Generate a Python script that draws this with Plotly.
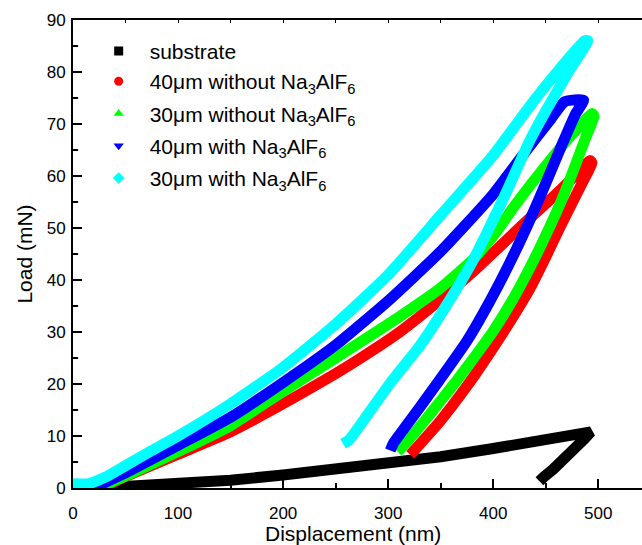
import plotly.graph_objects as go

# ---------------- data ----------------
# substrate (loading + unloading)
sub_x = [24, 50, 100, 150, 200, 250, 300, 350, 400, 450, 475, 493, 487, 477, 466, 457, 448, 444]
sub_y = [0, 0.3, 0.8, 1.5, 2.5, 3.5, 4.7, 6.0, 7.6, 9.3, 10.1, 10.8, 9.5, 7.4, 5.2, 3.6, 2.1, 1.3]

# 40um without Na3AlF6
r40_x = [27, 50, 100, 150, 200, 240, 270, 311, 340, 384, 430, 456, 475, 492,
         494, 485, 476, 462, 448, 435, 420, 400, 375, 350, 330, 321]
r40_y = [0, 2.2, 6.5, 10.8, 16.2, 20.8, 24.5, 30.0, 34.6, 42.2, 51.0, 55.8, 59.5, 63.0,
         62.5, 58.8, 55.2, 49.5, 43.6, 38.4, 33.3, 27.0, 19.6, 13.0, 8.4, 6.4]

# 30um without Na3AlF6
g30_x = [24, 50, 100, 150, 200, 250, 300, 350, 380, 400, 423, 450, 475, 494,
         496, 488, 478, 466, 450, 435, 419, 400, 380, 365, 350, 335, 320, 312, 309]
g30_y = [0, 2.3, 7.0, 12.0, 18.6, 25.0, 31.5, 38.5, 43.8, 48.5, 55.0, 62.0, 68.0, 72.0,
         71.5, 67.4, 62.0, 55.8, 48.6, 42.4, 36.4, 30.2, 24.6, 20.6, 16.8, 13.0, 9.4, 7.6, 7.0]

# 40um with Na3AlF6
b40_x = [19, 50, 100, 150, 200, 250, 300, 350, 400, 430, 455, 468, 486,
         478, 466, 450, 435, 415, 397, 375, 349, 330, 315, 305, 302]
b40_y = [0, 2.9, 8.2, 13.6, 20.3, 27.5, 36.0, 45.5, 56.5, 64.5, 71.0, 74.3, 74.6,
         71.8, 66.3, 58.6, 51.6, 43.0, 36.0, 28.3, 20.8, 15.5, 11.4, 8.6, 7.2]

# 30um with Na3AlF6
c30_x = [0, 14, 30, 50, 75, 100, 150, 200, 250, 300, 350, 400, 435, 460, 487,
         490, 470, 450, 435, 409, 380, 355, 330, 302, 280, 263, 257]
c30_y = [0.8, 0.8, 2.0, 4.3, 7.2, 10.0, 16.2, 23.2, 31.5, 41.0, 52.5, 64.0, 73.5, 79.8, 86.0,
         86.0, 79.5, 72.5, 66.9, 55.4, 43.5, 35.0, 27.3, 20.2, 14.0, 9.3, 8.5]

names = ["substrate",
         "40\u03bcm without Na<sub>3</sub>AlF<sub>6</sub>",
         "30\u03bcm without Na<sub>3</sub>AlF<sub>6</sub>",
         "40\u03bcm with Na<sub>3</sub>AlF<sub>6</sub>",
         "30\u03bcm with Na<sub>3</sub>AlF<sub>6</sub>"]
colors = ["#000000", "#FF0000", "#00FF00", "#0000FF", "#00FFFF"]
symbols = ["square", "circle", "triangle-up", "triangle-down", "diamond"]
series = [(sub_x, sub_y), (r40_x, r40_y), (g30_x, g30_y), (b40_x, b40_y), (c30_x, c30_y)]
groups = ["g1", "g1", "g2", "g3", "g4"]
shapes = ["linear", "spline", "spline", "spline", "spline"]

FONT = "Liberation Sans, Arial, sans-serif"

fig = go.Figure()
for (xs, ys), c, g, shp in zip(series, colors, groups, shapes):
    fig.add_trace(go.Scatter(x=xs, y=ys, mode="lines",
                             line=dict(color=c, width=11, shape=shp, smoothing=0.5),
                             showlegend=False, legendgroup=g, hoverinfo="skip"))
for c, nm, s, g in zip(colors, names, symbols, groups):
    fig.add_trace(go.Scatter(x=[None], y=[None], mode="markers", name=nm,
                             marker=dict(color=c, symbol=s, size=9),
                             legendgroup=g))
# dummy trace to draw the top axis
fig.add_trace(go.Scatter(x=[None], y=[None], xaxis="x2", showlegend=False))

axis_common = dict(showline=True, linecolor="black", linewidth=2, ticks="inside",
                   tickcolor="black", tickwidth=1.5, ticklen=9, showgrid=False,
                   zeroline=False, automargin=False,
                   tickfont=dict(family=FONT, size=17, color="black"))

fig.update_layout(
    width=642, height=545,
    margin=dict(l=73.3, r=0, t=19.5, b=56.5),
    plot_bgcolor="white", paper_bgcolor="white",
    font=dict(family=FONT, color="black"),
    xaxis=dict(range=[0, 541.6], dtick=100, tick0=0,
               minor=dict(ticks="inside", dtick=50, ticklen=5, tickwidth=1.5, tickcolor="black"),
               ticklabelstandoff=9,
               **axis_common),
    xaxis2=dict(overlaying="x", side="top", range=[0, 541.6], dtick=50, tick0=0,
                showline=True, linecolor="black", linewidth=2, ticks="inside",
                ticklen=3, tickwidth=1.2, tickcolor="black", showticklabels=False,
                showgrid=False, zeroline=False, automargin=False),
    yaxis=dict(range=[0, 90], dtick=10, tick0=0,
               minor=dict(ticks="inside", dtick=5, ticklen=5, tickwidth=1.5, tickcolor="black"),
               ticklabelstandoff=2,
               title=dict(text="Load (mN)", font=dict(family=FONT, size=21), standoff=8),
               **axis_common),
    legend=dict(x=0.0258, y=0.977, xanchor="left", yanchor="top",
                bgcolor="rgba(0,0,0,0)", borderwidth=0,
                font=dict(family=FONT, size=21, color="black"),
                tracegroupgap=2, itemwidth=52),
    annotations=[dict(text="Displacement (nm)", xref="paper", yref="paper",
                      x=0.492, y=-0.097, xanchor="center", yanchor="middle",
                      showarrow=False, font=dict(family=FONT, size=21, color="black"))],
)

fig.write_html("out.html")
